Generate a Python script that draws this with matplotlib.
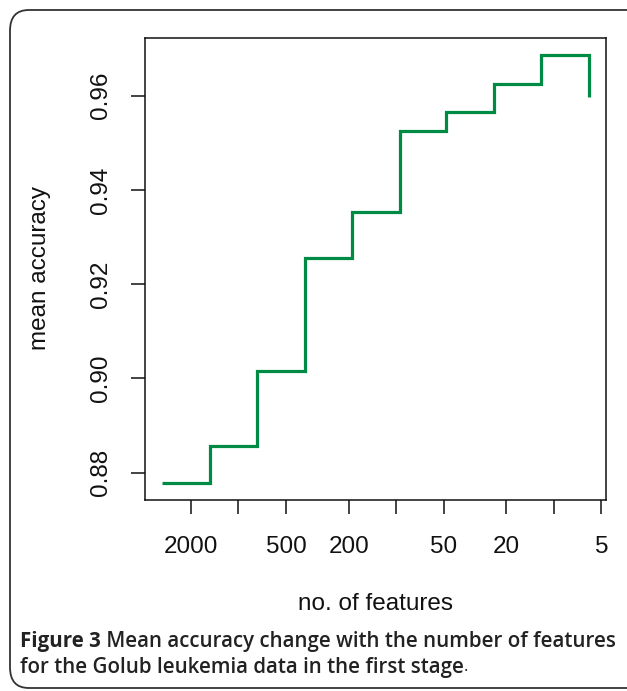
import numpy as np
import matplotlib
matplotlib.use("Agg")
import matplotlib.pyplot as plt
from matplotlib.patches import FancyBboxPatch

# Data
n_features = [3051, 1526, 763, 381, 191, 95, 48, 24, 12, 6]
mean_accuracy = [0.8778, 0.8856, 0.9016, 0.9255, 0.9352, 0.9524, 0.9565, 0.9624, 0.9686, 0.9598]
x_tick_values = [2000, 1000, 500, 200, 100, 50, 20, 10, 5]
x_tick_labels = ["2000", "", "500", "200", "", "50", "20", "", "5"]
y_tick_values = [0.88, 0.90, 0.92, 0.94, 0.96]
y_tick_labels = ["0.88", "0.90", "0.92", "0.94", "0.96"]
caption_bold = "Figure 3"
caption_rest = " Mean accuracy change with the number of features"
caption_line2 = "for the Golub leukemia data in the first stage"

W, H = 627, 691
fig = plt.figure(figsize=(W / 100, H / 100), dpi=100)
fig.patch.set_facecolor("white")

# Outer rounded frame
frame = FancyBboxPatch((10 / W, 3 / H), (W + 20) / W, (H - 10 - 3) / H,
                       boxstyle="round,pad=0,rounding_size=0.03",
                       transform=fig.transFigure, facecolor="none",
                       edgecolor="#333333", lw=1.3, clip_on=False)
fig.patches.append(frame)

ax = fig.add_axes([145 / W, 1 - 500 / H, (606 - 145) / W, (500 - 38) / H])
ax.set_xscale("log")
ax.step(n_features, mean_accuracy, where="post", color="#008B45", lw=2.3,
        solid_joinstyle="miter", solid_capstyle="butt")

# R-style 4% axis extension
lx = np.log10(n_features)
rx = lx.max() - lx.min()
ax.set_xlim(10 ** (lx.max() + 0.04 * rx), 10 ** (lx.min() - 0.04 * rx))
ry = max(mean_accuracy) - min(mean_accuracy)
ax.set_ylim(min(mean_accuracy) - 0.04 * ry, max(mean_accuracy) + 0.04 * ry)

ax.xaxis.set_minor_locator(matplotlib.ticker.NullLocator())
ax.set_xticks(x_tick_values)
ax.set_xticklabels(x_tick_labels)
ax.set_yticks(y_tick_values)
ax.set_yticklabels(y_tick_labels, rotation=90, va="center")

for s in ax.spines.values():
    s.set_linewidth(1.1)
    s.set_color("#111111")
ax.tick_params(axis="both", direction="out", length=10, width=1.1,
               color="#111111", labelsize=17.5, labelcolor="#111111")
ax.tick_params(axis="x", pad=16)
ax.tick_params(axis="y", pad=14)
for lab in ax.get_xticklabels() + ax.get_yticklabels():
    lab.set_fontfamily("Liberation Sans")

fig.text(375 / W, 1 - 604 / H, "no. of features", ha="center", va="center",
         fontsize=17.5, family="Liberation Sans", color="#111111")
fig.text(40 / W, 1 - 268 / H, "mean accuracy", ha="center", va="center",
         rotation=90, fontsize=17.5, family="Liberation Sans", color="#111111")

# Caption: scale font so the first line spans the frame width
fig.canvas.draw()
r = fig.canvas.get_renderer()
base = 12.0
tb = fig.text(0, 0, caption_bold, fontsize=base, family="Open Sans", weight="bold")
tr = fig.text(0, 0, caption_rest, fontsize=base, family="Open Sans", weight="semibold")
wtot = tb.get_window_extent(renderer=r).width + tr.get_window_extent(renderer=r).width
tb.remove(); tr.remove()
cap_fs = base * (617 - 20) / wtot

col = "#222222"
t1 = fig.text(20 / W, 1 - 641 / H, caption_bold, ha="left", va="center",
              fontsize=cap_fs, family="Open Sans", weight="bold", color=col)
bb = t1.get_window_extent(renderer=r)
fig.text(bb.x1 / W, 1 - 641 / H, caption_rest, ha="left", va="center",
         fontsize=cap_fs, family="Open Sans", weight="semibold", color=col)
t3 = fig.text(20 / W, 1 - 667 / H, caption_line2, ha="left", va="center",
              fontsize=cap_fs, family="Open Sans", weight="semibold", color=col)
bb3 = t3.get_window_extent(renderer=r)
fig.text(bb3.x1 / W, 1 - 667 / H, ".", ha="left", va="center",
         fontsize=cap_fs * 0.8, family="Open Sans", color=col)

fig.savefig("out.png", dpi=100)
